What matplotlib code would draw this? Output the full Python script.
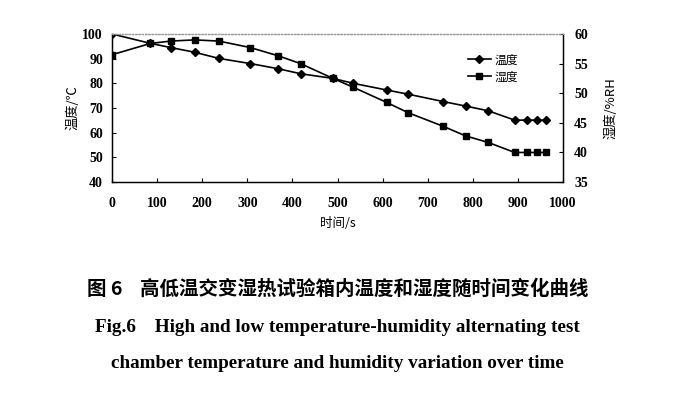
import matplotlib
matplotlib.use("Agg")
import matplotlib.pyplot as plt

time_s = [0, 85, 130, 183, 237, 307, 369, 418, 490, 535, 609, 657, 735, 784, 834, 893, 921, 942, 962]
temperature = [100, 96.2, 94.5, 92.6, 90.1, 88.0, 85.9, 83.9, 82.0, 80.0, 77.3, 75.6, 72.6, 70.8, 68.9, 65.1, 65.1, 65.1, 65.1]
humidity = [56.5, 58.4, 58.8, 59.0, 58.8, 57.7, 56.3, 55.0, 52.5, 51.0, 48.45, 46.7, 44.4, 42.8, 41.7, 40.0, 40.0, 40.0, 40.0]

x_ticks = [0, 100, 200, 300, 400, 500, 600, 700, 800, 900, 1000]
left_ticks = [40, 50, 60, 70, 80, 90, 100]
right_ticks = [35, 40, 45, 50, 55, 60]

serif = ['Liberation Serif', 'DejaVu Serif']
cjk = ['Noto Sans CJK SC', 'DejaVu Sans']

fig = plt.figure(figsize=(6.75, 3.95), dpi=100)
ax = fig.add_axes([0.166, 0.539, 0.668, 0.375])
ax2 = ax.twinx()

l1, = ax.plot(time_s, temperature, color='black', lw=1.2, marker='D', ms=4.5, label='温度')
l2, = ax2.plot(time_s, humidity, color='black', lw=1.2, marker='s', ms=5, label='湿度')

ax.set_xlim(0, 1000)
ax.set_ylim(40, 100)
ax2.set_ylim(35, 60)
ax.set_xticks(x_ticks)
ax.set_yticks(left_ticks)
ax2.set_yticks(right_ticks)

for a in (ax, ax2):
    a.tick_params(direction='in', length=3, width=0.8)
    for lab in a.get_xticklabels() + a.get_yticklabels():
        lab.set_fontfamily(serif)
        lab.set_fontweight('bold')
        lab.set_fontsize(10)
    for s in a.spines.values():
        s.set_linewidth(0.9)
    a.spines['top'].set_linestyle(':')
    a.spines['top'].set_color('#999999')
ax.tick_params(axis='x', pad=11)
ax.tick_params(axis='y', pad=6.5)
ax2.tick_params(axis='y', pad=8)

ax.set_xlabel('时间/s', family=cjk, fontsize=9, labelpad=5)
ax.set_ylabel('温度/℃', family=cjk, fontsize=9.5, labelpad=2)
ax2.set_ylabel('湿度/%RH', family=cjk, fontsize=9.5, rotation=90, labelpad=12)

leg = ax.legend(handles=[l1, l2], loc='upper left', bbox_to_anchor=(0.765, 0.94),
                frameon=False, prop={'family': cjk, 'size': 8.5},
                handlelength=2.0, handletextpad=0.3, labelspacing=0.35)

fig.text(0.5, 0.268, '图 6    高低温交变湿热试验箱内温度和湿度随时间变化曲线',
         ha='center', va='center', family=cjk, fontweight='bold', fontsize=14)
fig.text(0.5, 0.172, 'Fig.6    High and low temperature-humidity alternating test',
         ha='center', va='center', family=serif, fontweight='bold', fontsize=13.8)
fig.text(0.5, 0.08, 'chamber temperature and humidity variation over time',
         ha='center', va='center', family=serif, fontweight='bold', fontsize=13.8)

fig.savefig('out.png', dpi=100)
